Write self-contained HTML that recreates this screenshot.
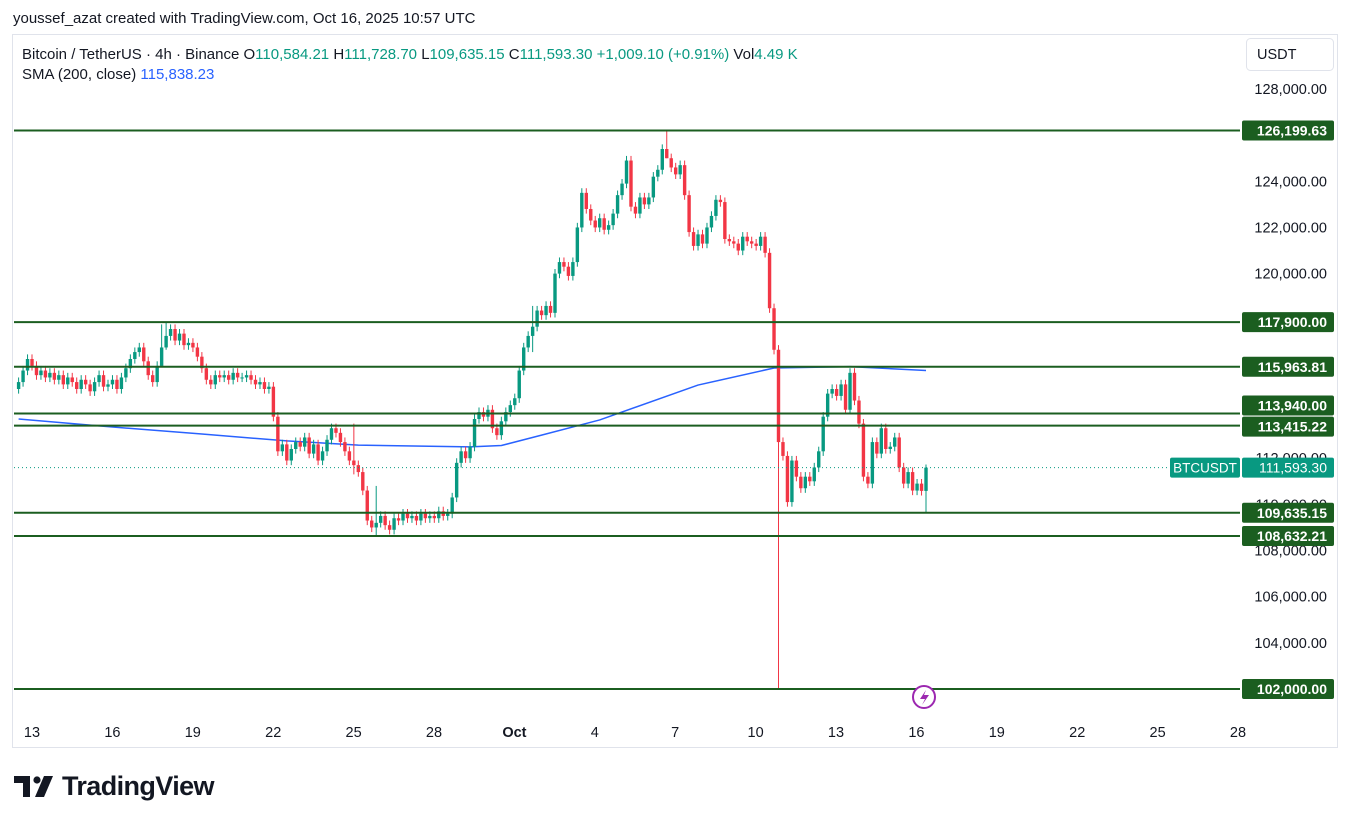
<!DOCTYPE html>
<html><head><meta charset="utf-8">
<style>
body{margin:0;width:1351px;height:824px;background:#fff;font-family:"Liberation Sans",sans-serif;overflow:hidden;position:relative}
.hdr{position:absolute;left:13px;top:10px;font-size:15px;color:#131722}
.logo{position:absolute;left:62px;top:771px;font-size:27px;font-weight:bold;color:#131722;letter-spacing:-0.6px}
</style></head>
<body>
<div class="hdr">youssef_azat created with TradingView.com, Oct 16, 2025 10:57 UTC</div>
<svg id="chart" width="1351" height="824" style="position:absolute;left:0;top:0" xmlns="http://www.w3.org/2000/svg" font-family="Liberation Sans, sans-serif"></svg>
<div class="logo">TradingView</div>
<script>
const closes=[115.3,115.8,116.3,
116.0,115.6,115.8,115.5,115.7,115.4,
115.6,115.2,115.5,115.3,115.0,115.4,
115.2,114.9,115.3,115.6,115.1,115.2,
115.4,115.0,115.5,115.9,116.3,116.6,
116.8,116.2,115.6,115.3,116.0,116.8,
117.3,117.6,117.1,117.4,116.9,117.0,
116.8,116.4,115.9,115.4,115.2,115.6,
115.5,115.6,115.4,115.7,115.5,115.5,
115.6,115.4,115.2,115.3,115.0,115.1,
113.8,112.3,112.6,111.9,112.4,112.7,
112.5,112.9,112.2,112.6,111.9,112.3,
112.8,113.3,113.1,112.7,112.3,111.9,
111.7,111.4,110.6,109.3,109.0,109.2,
109.5,109.1,108.9,109.4,109.3,109.6,
109.4,109.5,109.3,109.6,109.4,109.5,
109.4,109.7,109.5,109.6,110.3,111.8,
112.3,112.0,112.5,113.7,114.0,113.8,
114.1,113.3,113.0,113.6,114.0,114.3,
114.6,115.8,116.8,117.3,117.7,118.4,
118.2,118.6,118.3,120.0,120.5,120.3,
119.9,120.5,122.0,123.5,122.8,122.3,
122.0,122.4,121.9,122.1,122.6,123.4,
123.9,124.9,122.9,122.6,123.3,123.0,
123.3,124.2,124.5,125.4,125.0,124.6,
124.3,124.7,123.4,121.8,121.2,121.7,
121.3,122.0,122.5,123.2,123.1,121.5,
121.4,121.3,121.0,121.6,121.4,121.3,
121.2,121.6,120.9,118.5,116.7,112.7,
112.1,110.1,111.9,111.2,110.7,111.2,
111.0,111.6,112.3,113.8,114.8,115.0,
114.7,115.2,114.1,115.7,114.5,113.5,
111.2,110.9,112.7,112.2,113.3,112.4,
112.5,112.9,111.6,110.9,111.4,110.6,
110.9,110.584,111.593];
const firstOpen=115.0;
const wickIdx=[33,145,170,203,32,115,75,80];
const wickHi=[117.9,126.2,116.9,111.728,117.8,118.6,113.5,110.8];
const wickLo=[116.7,125.0,102.0,109.635,116.2,116.6,111.3,108.63];
const smaIdx=[0,18,41,60,76,101,108,117,130,152,169,186,203];
const smaVal=[113.7,113.4,113.05,112.75,112.57,112.49,112.55,113.0,113.66,115.17,115.91,115.97,115.8];
const priceTicks=[128000,124000,122000,120000,112000,110000,108000,106000,104000];
const levels=[126199.63,117900,115963.81,113940,113415.22,109635.15,108632.21,102000];
const labelShift=[0,0,0,-8,1,0,0,0];
const dayLabels=["13","16","19","22","25","28","Oct","4","7","10","13","16","19","22","25","28"];

const svg=document.getElementById('chart');
const NS="http://www.w3.org/2000/svg";
function Y(p){return 89+(128000-p)*600/26000;}
function X(i){return 18.6+i*4.47;}
function add(tag,attrs,parent){const e=document.createElementNS(NS,tag);for(const k in attrs)e.setAttribute(k,attrs[k]);(parent||svg).appendChild(e);return e;}
const frame=add('rect',{x:12.5,y:34.5,width:1325,height:713,fill:'none',stroke:'#e0e3eb'});

let t=add('text',{x:22,y:59,'font-size':15,fill:'#131722'});

t.innerHTML='Bitcoin / TetherUS · 4h · Binance <tspan fill="#131722">O</tspan><tspan fill="#089981">110,584.21</tspan> <tspan fill="#131722">H</tspan><tspan fill="#089981">111,728.70</tspan> <tspan fill="#131722">L</tspan><tspan fill="#089981">109,635.15</tspan> <tspan fill="#131722">C</tspan><tspan fill="#089981">111,593.30 +1,009.10 (+0.91%)</tspan> <tspan fill="#131722">Vol</tspan><tspan fill="#089981">4.49 K</tspan>';
t=add('text',{x:22,y:79,'font-size':15,fill:'#131722'});

t.innerHTML='SMA (200, close) <tspan fill="#2962ff">115,838.23</tspan>';
const ub=add('rect',{x:1246.5,y:38.5,width:87,height:32,rx:4,fill:'#fff',stroke:'#e0e3eb'});

t=add('text',{x:1257,y:59,'font-size':14.5,fill:'#131722'});t.textContent='USDT';

priceTicks.forEach(p=>{const e=add('text',{x:1327,y:Y(p)+5,'font-size':14.5,fill:'#131722','text-anchor':'end'});e.textContent=p.toLocaleString('en-US',{minimumFractionDigits:2});
});
dayLabels.forEach((d,i)=>{const e=add('text',{x:32+i*80.4,y:737,'font-size':14.5,fill:'#131722','text-anchor':'middle','font-weight':d==='Oct'?'bold':'normal'});e.textContent=d;
});
let pts=smaIdx.map((k,j)=>X(k)+','+Y(smaVal[j]*1000)).join(' ');
const sl=add('polyline',{points:pts,fill:'none',stroke:'#2962ff','stroke-width':1.5,'stroke-linejoin':'round'});

let prev=firstOpen;
closes.forEach((c,i)=>{const o=prev;prev=c;let hi=Math.max(o,c)+0.2,lo=Math.min(o,c)-0.2;
const w=wickIdx.indexOf(i);if(w>=0){hi=wickHi[w];lo=wickLo[w];}
const col=c>=o?'#089981':'#f23645';const x=X(i);
const g=add('g',{});

add('line',{x1:x,x2:x,y1:Y(hi*1000),y2:Y(lo*1000),stroke:col,'stroke-width':1},g);
const y1=Y(Math.max(o,c)*1000),y2=Y(Math.min(o,c)*1000);
add('rect',{x:x-1.7,y:y1,width:3.4,height:Math.max(1,y2-y1),fill:col},g);});
const cp=111593.3;
const dl=add('line',{x1:14,x2:1240,y1:Y(cp),y2:Y(cp),stroke:'#089981','stroke-dasharray':'1 3'});

levels.forEach((p,k)=>{const y=Y(p);
const l=add('line',{x1:14,x2:1240,y1:y,y2:y,stroke:'#1b5e20','stroke-width':2});

const ly=y+labelShift[k];
const r=add('rect',{x:1242,y:ly-10,width:92,height:20,fill:'#1b5e20',rx:2});

const e=add('text',{x:1327,y:ly+5,'font-size':14,fill:'#fff','text-anchor':'end','font-weight':'bold'});e.textContent=p.toLocaleString('en-US',{minimumFractionDigits:2});
});
let r=add('rect',{x:1170,y:Y(cp)-10,width:70,height:20,fill:'#089981',rx:2});

t=add('text',{x:1205,y:Y(cp)+5,'font-size':13.5,fill:'#fff','text-anchor':'middle'});t.textContent='BTCUSDT';

r=add('rect',{x:1242,y:Y(cp)-10,width:92,height:20,fill:'#089981',rx:2});

t=add('text',{x:1327,y:Y(cp)+5,'font-size':14,fill:'#fff','text-anchor':'end'});t.textContent='111,593.30';

const li=add('g',{});

add('circle',{cx:924,cy:697,r:11,fill:'#fff',stroke:'#9c27b0','stroke-width':2},li);
add('path',{d:'M926 690 L920 699 L925 699 L922 705 L929 695 L924 695 Z',fill:'#9c27b0'},li);
const lg=add('g',{fill:'#131722'});

add('path',{d:'M14 776 H30 V797 H23 V783 H14 Z'},lg);
add('circle',{cx:37,cy:780,r:3.6},lg);
add('path',{d:'M44 776 H53 L44 797 H35 Z'},lg);
</script>
</body></html>
